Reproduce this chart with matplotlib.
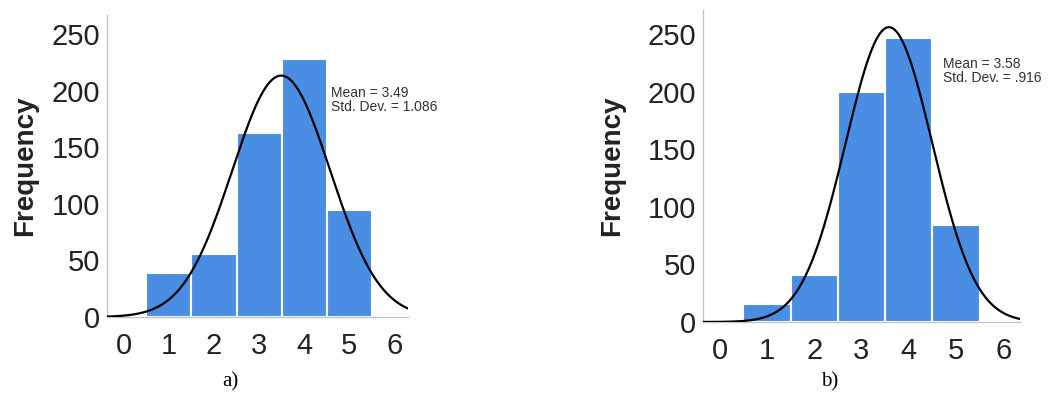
import matplotlib.pyplot as plt
import numpy as np

# bin centres (scores 1..5) and counts
scores = [1, 2, 3, 4, 5]
counts_a = [39, 56, 163, 228, 95]
counts_b = [16, 41, 200, 247, 84]

mean_a, sd_a = 3.49, 1.086
mean_b, sd_b = 3.58, 0.916
sd_text_a = "1.086"
sd_text_b = ".916"

xticks = [0, 1, 2, 3, 4, 5, 6]
yticks = [0, 50, 100, 150, 200, 250]

bar_color = "#4a8ee3"
axis_color = "#c4c4c4"

plt.rcParams["font.family"] = ["Liberation Sans", "DejaVu Sans"]

fig = plt.figure(figsize=(10.61, 3.97), dpi=100)


def draw_panel(rect, counts, mean, sd, sd_text, xlim, ylim, note_xy, tag, tag_x, ylab_x):
    ax = fig.add_axes(rect)
    ax.bar(scores, counts, width=1.0, color=bar_color, edgecolor="white",
           linewidth=1.5, zorder=2)

    # fitted normal curve, scaled to the number of cases (bin width 1)
    n = sum(counts)
    xs = np.linspace(xlim[0], xlim[1], 400)
    ys = n / (sd * np.sqrt(2 * np.pi)) * np.exp(-0.5 * ((xs - mean) / sd) ** 2)
    ax.plot(xs, ys, color="black", linewidth=1.6, zorder=3)

    ax.set_xlim(*xlim)
    ax.set_ylim(*ylim)
    ax.set_xticks(xticks)
    ax.set_yticks(yticks)
    ax.tick_params(axis="both", length=0, labelsize=21, colors="#222222")
    ax.tick_params(axis="x", pad=11)
    ax.tick_params(axis="y", pad=5)

    for s in ["top", "right"]:
        ax.spines[s].set_visible(False)
    for s in ["left", "bottom"]:
        ax.spines[s].set_color(axis_color)
        ax.spines[s].set_linewidth(1.0)

    ax.text(note_xy[0], note_xy[1], f"Mean = {mean:.2f}\nStd. Dev. = {sd_text}",
            fontsize=10, color="#333333", va="center", ha="left", linespacing=1.0)

    fig.text(ylab_x, rect[1] + rect[3] * 0.5, "Frequency", rotation=90,
             fontsize=20, fontweight="bold", ha="center", va="center", color="#222222")
    fig.text(tag_x, 1 - 382 / 397, tag, fontsize=15, ha="center", va="center",
             family=["Liberation Serif", "DejaVu Serif"])
    return ax


draw_panel([107 / 1061, 1 - 317 / 397, 301 / 1061, 302 / 397],
           counts_a, mean_a, sd_a, sd_text_a, (-0.37, 6.3), (0, 267), (4.6, 192),
           "a)", 230 / 1061, 25 / 1061)
draw_panel([703 / 1061, 1 - 322 / 397, 317 / 1061, 312 / 397],
           counts_b, mean_b, sd_b, sd_text_b, (-0.35, 6.35), (0, 271), (4.73, 218),
           "b)", 830 / 1061, 612 / 1061)

fig.savefig("out.png", dpi=100)
